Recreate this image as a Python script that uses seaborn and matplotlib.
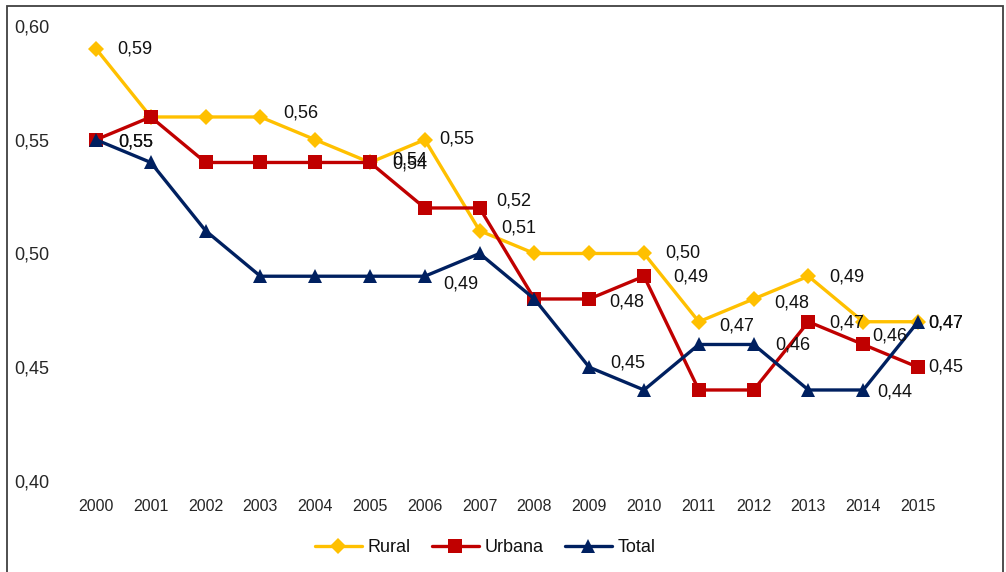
import numpy as np
import pandas as pd
import matplotlib
matplotlib.use("Agg")
import matplotlib.pyplot as plt
import seaborn as sns
from matplotlib.patches import Rectangle

# --- data ---
years = [2000, 2001, 2002, 2003, 2004, 2005, 2006, 2007,
         2008, 2009, 2010, 2011, 2012, 2013, 2014, 2015]
rural = [0.59, 0.56, 0.56, 0.56, 0.55, 0.54, 0.55, 0.51,
         0.50, 0.50, 0.50, 0.47, 0.48, 0.49, 0.47, 0.47]
urbana = [0.55, 0.56, 0.54, 0.54, 0.54, 0.54, 0.52, 0.52,
          0.48, 0.48, 0.49, 0.44, 0.44, 0.47, 0.46, 0.45]
total = [0.55, 0.54, 0.51, 0.49, 0.49, 0.49, 0.49, 0.50,
         0.48, 0.45, 0.44, 0.46, 0.46, 0.44, 0.44, 0.47]

# years that carry a data label in the original chart
rural_labeled = [2000, 2003, 2005, 2006, 2007, 2010, 2011, 2012, 2013, 2015]
urbana_labeled = [2000, 2005, 2007, 2009, 2010, 2013, 2014, 2015]
total_labeled = [2000, 2006, 2009, 2012, 2014, 2015]

series = {
    "Rural": (rural, rural_labeled),
    "Urbana": (urbana, urbana_labeled),
    "Total": (total, total_labeled),
}

# --- style ---
colors = {"Rural": "#FFC000", "Urbana": "#C00000", "Total": "#002060"}
markers = {"Rural": "D", "Urbana": "s", "Total": "^"}
msizes = {"Rural": 8, "Urbana": 10, "Total": 10}

# label offsets in pixels (dx, dy), default (21, 0)
label_offsets = {
    ("Urbana", 2000): (22, -2), ("Total", 2000): (22, -2),
    ("Rural", 2003): (23, 4),
    ("Rural", 2005): (22, 2), ("Urbana", 2005): (22, -2),
    ("Rural", 2006): (14, 1),
    ("Total", 2006): (18, -8),
    ("Urbana", 2007): (17, 7), ("Rural", 2007): (22, 3),
    ("Total", 2009): (21, 4), ("Urbana", 2009): (20, -3),
    ("Urbana", 2010): (29, -1),
    ("Rural", 2011): (20, -4), ("Rural", 2012): (21, -4),
    ("Total", 2012): (22, -1),
    ("Rural", 2013): (21, -1), ("Urbana", 2013): (21, -1),
    ("Urbana", 2014): (9, 8), ("Total", 2014): (14, -2),
    ("Rural", 2015): (10, -1), ("Total", 2015): (10, -1),
    ("Urbana", 2015): (10, 0),
}

sns.set_style("white")
plt.rcParams["font.family"] = ["Liberation Sans", "DejaVu Sans"]
plt.rcParams["text.color"] = "#111111"

fig = plt.figure(figsize=(10.06, 5.72), dpi=100)
ax = fig.add_axes([0.0682, 0.1591, 0.8716, 0.7955])

for name, (vals, labeled) in series.items():
    sns.lineplot(x=years, y=vals, ax=ax, color=colors[name], marker=markers[name],
                 markersize=msizes[name], markeredgewidth=0, linewidth=2.4,
                 label=name)
    for yr, v in zip(years, vals):
        if yr in labeled:
            dx, dy = label_offsets.get((name, yr), (21, 0))
            ax.annotate(f"{v:.2f}".replace(".", ","), (yr, v), xytext=(dx, dy),
                        textcoords="offset pixels", ha="left", va="center",
                        fontsize=13, color="#111111")

ax.set_xlim(1999.5, 2015.5)
ax.set_ylim(0.40, 0.60)
ax.set_xticks(years)
ax.set_xticklabels([str(y) for y in years], fontsize=11.5)
yt = [0.40, 0.45, 0.50, 0.55, 0.60]
ax.set_yticks(yt)
ax.set_yticklabels([f"{v:.2f}".replace(".", ",") for v in yt], fontsize=13)
ax.tick_params(axis="x", length=0, pad=13)
ax.tick_params(axis="y", length=0, pad=14)
ax.set_xlabel("")
ax.set_ylabel("")
sns.despine(ax=ax, left=True, bottom=True)
ax.grid(False)

leg = ax.legend(loc="center", bbox_to_anchor=(485 / 1006, 1 - 548 / 572),
                bbox_transform=fig.transFigure, ncol=3, frameon=False,
                fontsize=13, handlelength=2.6, columnspacing=1.2, handletextpad=0.3)

# outer chart border
fig.patches.append(Rectangle((7 / 1006, -0.01), 996 / 1006, 1.01 - 6 / 572,
                             transform=fig.transFigure, fill=False,
                             edgecolor="#404040", linewidth=1.3))

fig.savefig("out.png", dpi=100)
